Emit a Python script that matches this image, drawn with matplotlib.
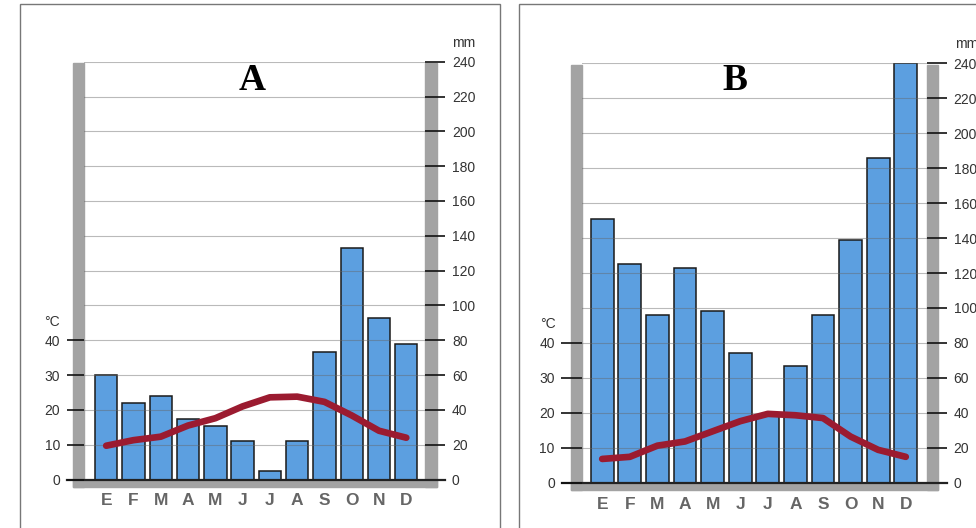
import matplotlib.pyplot as plt
from matplotlib.patches import Rectangle

plt.rcParams['font.family'] = ['Liberation Sans', 'DejaVu Sans']

# datos de los dos climogramas
meses = ['E', 'F', 'M', 'A', 'M', 'J', 'J', 'A', 'S', 'O', 'N', 'D']
precip_a = [60, 44, 48, 35, 31, 22, 5, 22, 73, 133, 93, 78]
temp_a = [9.7, 11.3, 12.3, 15.5, 17.6, 21.0, 23.6, 23.8, 22.3, 18.4, 14.0, 12.0]
precip_b = [151, 125, 96, 123, 98, 74, 39, 67, 96, 139, 186, 240]
temp_b = [6.8, 7.4, 10.6, 11.8, 14.7, 17.6, 19.7, 19.3, 18.5, 13.2, 9.4, 7.4]
mm_ticks = [0, 20, 40, 60, 80, 100, 120, 140, 160, 180, 200, 220, 240]
c_ticks = [0, 10, 20, 30, 40]

W, H = 976, 528
fig = plt.figure(figsize=(W / 100, H / 100), dpi=100)

GRIS = '#a3a3a3'
AZUL = '#5c9fe0'
ROJO = '#9b1b30'


def rect_px(x0, y0, x1, y1, **kw):
    # rectangulo en pixeles de la figura (y hacia abajo)
    r = Rectangle((x0 / W, 1 - y1 / H), (x1 - x0) / W, (y1 - y0) / H,
                  transform=fig.transFigure, **kw)
    fig.add_artist(r)


def climograma(letra, precip, temp, gl, gr, y0, y240, xc0, xc11,
               tick_izq, marco, pos_letra, pos_c, pos_mm):
    # gl, gr: bordes de las barras grises (exterior, interior)
    x_in0, x_in1 = gl[1], gr[0]
    axw = x_in1 - x_in0
    ax = fig.add_axes([x_in0 / W, 1 - y0 / H, axw / W, (y0 - y240) / H])
    esp = (xc11 - xc0) / 11
    ax.set_xlim(-(xc0 - x_in0) / esp, 11 + (x_in1 - xc11) / esp)
    ax.set_ylim(0, 240)
    ax.patch.set_alpha(0)
    for s in ax.spines.values():
        s.set_visible(False)

    x = list(range(12))
    ax.bar(x, precip, width=0.82, color=AZUL, edgecolor='#1a1a1a',
           linewidth=1.1, zorder=2)
    for v in mm_ticks[1:]:
        ax.axhline(v, color='#666666', lw=0.8, alpha=0.45, zorder=3)
    ax.axhline(0, xmin=-tick_izq / axw, xmax=1 + 20 / axw, color='#222222',
               lw=1.6, clip_on=False, zorder=4)

    ax2 = ax.twinx()
    ax2.set_ylim(0, 120)
    for s in ax2.spines.values():
        s.set_visible(False)
    ax2.yaxis.tick_left()
    ax2.set_yticks(c_ticks)
    ax2.tick_params(axis='y', direction='out', length=tick_izq / 1.389,
                    width=1.2, pad=5, labelsize=10, colors='#111111',
                    labelcolor='#333333')
    ax2.plot(x, temp, color=ROJO, lw=4.8, solid_capstyle='round', zorder=5)

    # eje de precipitacion a la derecha (despues de twinx)
    ax.yaxis.tick_right()
    ax.set_yticks(mm_ticks)
    ax.tick_params(axis='y', direction='out', length=14.4, width=1.2,
                   pad=5, labelsize=10, colors='#111111', labelcolor='#333333')
    ax.set_xticks(x)
    ax.set_xticklabels(meses, fontsize=12.5, fontweight='bold', color='#666666')
    ax.tick_params(axis='x', length=0, pad=10)

    # barras grises laterales y base
    rect_px(gl[0], y240 + 1.7, gl[1], y0 + 7, color=GRIS, zorder=-1)
    rect_px(gr[0], y240 + 1.7, gr[1], y0 + 7, color=GRIS, zorder=-1)
    rect_px(gl[0], y0, gr[1], y0 + 7, color=GRIS, zorder=-1)
    # marco
    rect_px(*marco, fill=False, edgecolor='#777777', lw=1.0, zorder=-2)

    fig.text(pos_letra[0] / W, 1 - pos_letra[1] / H, letra, ha='center',
             va='center', fontsize=27, fontweight='bold',
             family=['Liberation Serif', 'DejaVu Serif'])
    fig.text(pos_c[0] / W, 1 - pos_c[1] / H, '°C', ha='left', va='center',
             fontsize=10, color='#333333')
    fig.text(pos_mm[0] / W, 1 - pos_mm[1] / H, 'mm', ha='left', va='center',
             fontsize=10, color='#333333')


climograma('A', precip_a, temp_a, (72.7, 84.3), (425.0, 436.7), 479.5, 61.7,
           106.2, 406.3, 17.3, (20, 4, 500, 540), (252, 80), (44, 322), (452, 43))
climograma('B', precip_b, temp_b, (570.7, 582.3), (926.7, 937.7), 482.7, 63.4,
           602.2, 905.8, 20.6, (519, 4, 1000, 540), (735, 80), (540, 324), (955, 44))

fig.savefig('out.png', dpi=100)
